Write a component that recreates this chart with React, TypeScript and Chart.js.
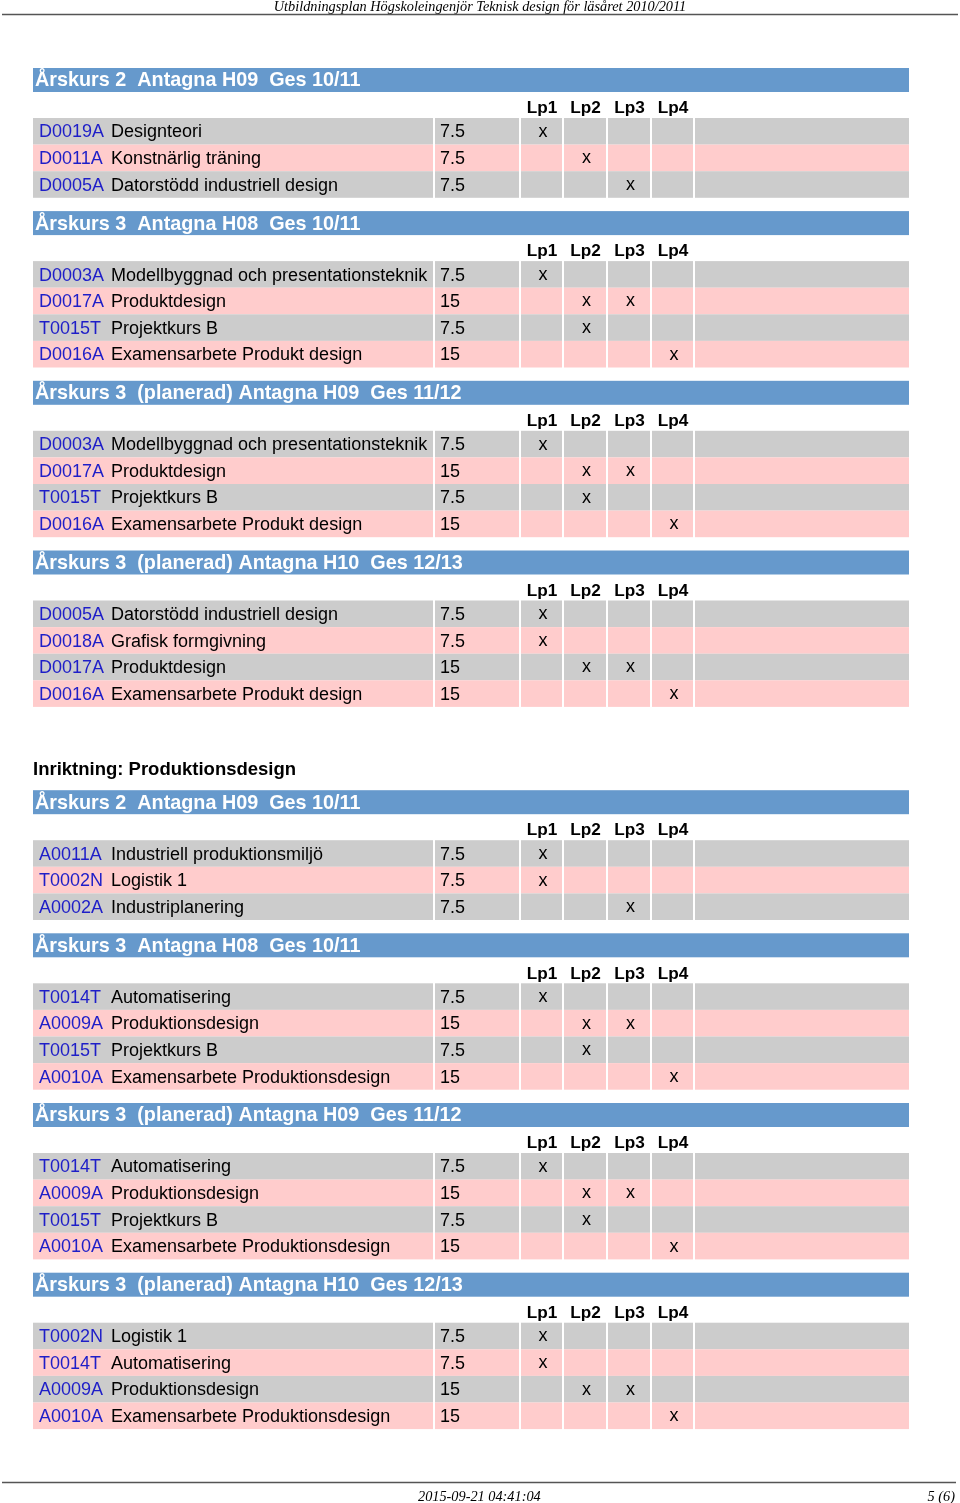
import React, { useEffect, useRef } from "react";
import { Chart, registerables } from "chart.js";

Chart.register(...registerables);

const pageTitle = "Utbildningsplan Högskoleingenjör Teknisk design för läsåret 2010/2011";
const footerDate = "2015-09-21 04:41:04";
const footerPage = "5 (6)";
const groupHeading = "Inriktning: Produktionsdesign";
const groupHeadingBefore = 4;

const sectionTitles = [
  "Årskurs 2  Antagna H09  Ges 10/11",
  "Årskurs 3  Antagna H08  Ges 10/11",
  "Årskurs 3  (planerad) Antagna H09  Ges 11/12",
  "Årskurs 3  (planerad) Antagna H10  Ges 12/13",
  "Årskurs 2  Antagna H09  Ges 10/11",
  "Årskurs 3  Antagna H08  Ges 10/11",
  "Årskurs 3  (planerad) Antagna H09  Ges 11/12",
  "Årskurs 3  (planerad) Antagna H10  Ges 12/13",
];

const periodLabels = ["Lp1", "Lp2", "Lp3", "Lp4"];

const courseSection = [0, 0, 0, 1, 1, 1, 1, 2, 2, 2, 2, 3, 3, 3, 3, 4, 4, 4, 5, 5, 5, 5, 6, 6, 6, 6, 7, 7, 7, 7];
const courseCodes = [
  "D0019A", "D0011A", "D0005A",
  "D0003A", "D0017A", "T0015T", "D0016A",
  "D0003A", "D0017A", "T0015T", "D0016A",
  "D0005A", "D0018A", "D0017A", "D0016A",
  "A0011A", "T0002N", "A0002A",
  "T0014T", "A0009A", "T0015T", "A0010A",
  "T0014T", "A0009A", "T0015T", "A0010A",
  "T0002N", "T0014T", "A0009A", "A0010A",
];
const courseNames = [
  "Designteori", "Konstnärlig träning", "Datorstödd industriell design",
  "Modellbyggnad och presentationsteknik", "Produktdesign", "Projektkurs B", "Examensarbete Produkt design",
  "Modellbyggnad och presentationsteknik", "Produktdesign", "Projektkurs B", "Examensarbete Produkt design",
  "Datorstödd industriell design", "Grafisk formgivning", "Produktdesign", "Examensarbete Produkt design",
  "Industriell produktionsmiljö", "Logistik 1", "Industriplanering",
  "Automatisering", "Produktionsdesign", "Projektkurs B", "Examensarbete Produktionsdesign",
  "Automatisering", "Produktionsdesign", "Projektkurs B", "Examensarbete Produktionsdesign",
  "Logistik 1", "Automatisering", "Produktionsdesign", "Examensarbete Produktionsdesign",
];
const courseCredits = [
  "7.5", "7.5", "7.5",
  "7.5", "15", "7.5", "15",
  "7.5", "15", "7.5", "15",
  "7.5", "7.5", "15", "15",
  "7.5", "7.5", "7.5",
  "7.5", "15", "7.5", "15",
  "7.5", "15", "7.5", "15",
  "7.5", "7.5", "15", "15",
];
// periods in which each course runs (1..4)
const coursePeriods = [
  [1], [2], [3],
  [1], [2, 3], [2], [4],
  [1], [2, 3], [2], [4],
  [1], [1], [2, 3], [4],
  [1], [1], [3],
  [1], [2, 3], [2], [4],
  [1], [2, 3], [2], [4],
  [1], [1], [2, 3], [4],
];

// layout (pixels)
const FONT = '"Liberation Sans", Arial, Helvetica, sans-serif';
const SERIF = '"Liberation Serif", "Times New Roman", serif';
const COLS: [number, number][] = [[33, 433], [435, 519], [521, 562], [564, 606], [608, 650], [652, 693], [695, 909]];
const FIRST_TOP = 68;
const BAR_H = 24;
const HEAD_H = 50;
const ROW_H = 26.6;
const GAP = 13.3;
const GROUP_EXTRA = 70;

const tablePlugin = {
  id: "tablePlugin",
  afterDraw(chart: any) {
    const ctx = chart.ctx as CanvasRenderingContext2D;
    const xs = chart.scales.x;
    const ys = chart.scales.y;
    const X = (v: number) => xs.getPixelForValue(v);
    const Y = (v: number) => ys.getPixelForValue(v);
    ctx.save();

    // page header
    ctx.fillStyle = "#000";
    ctx.font = `italic 14.3px ${SERIF}`;
    ctx.textAlign = "center";
    ctx.textBaseline = "alphabetic";
    ctx.fillText(pageTitle, X(480), Y(11));
    ctx.strokeStyle = "#555";
    ctx.lineWidth = 1.5;
    ctx.beginPath();
    ctx.moveTo(X(2), Y(14.5));
    ctx.lineTo(X(958), Y(14.5));
    ctx.stroke();

    // footer
    ctx.beginPath();
    ctx.moveTo(X(2), Y(1482.5));
    ctx.lineTo(X(956), Y(1482.5));
    ctx.stroke();
    ctx.font = `italic 14.3px ${SERIF}`;
    ctx.textAlign = "left";
    ctx.fillText(footerDate, X(418), Y(1500.5));
    ctx.textAlign = "right";
    ctx.fillText(footerPage, X(955), Y(1500.5));

    let top = FIRST_TOP;
    sectionTitles.forEach((title, s) => {
      if (s === groupHeadingBefore) {
        top += GROUP_EXTRA;
        ctx.fillStyle = "#000";
        ctx.font = `bold 18.5px ${FONT}`;
        ctx.textAlign = "left";
        ctx.textBaseline = "middle";
        ctx.fillText(groupHeading, X(33), Y(top - 20));
      }
      // blue title bar
      ctx.fillStyle = "#6699cc";
      ctx.fillRect(X(COLS[0][0]), Y(top), X(COLS[6][1]) - X(COLS[0][0]), Y(top + BAR_H) - Y(top));
      ctx.fillStyle = "#ffffff";
      ctx.font = `bold 19.8px ${FONT}`;
      ctx.textAlign = "left";
      ctx.textBaseline = "middle";
      ctx.fillText(title, X(35), Y(top + BAR_H / 2 + 1));

      // Lp header
      ctx.fillStyle = "#000";
      ctx.font = `bold 17.2px ${FONT}`;
      ctx.textAlign = "center";
      periodLabels.forEach((lab, i) => {
        const c = COLS[2 + i];
        ctx.fillText(lab, X((c[0] + c[1]) / 2 + 0.5), Y(top + 40.5));
      });

      const rows = courseCodes.map((_, i) => i).filter((i) => courseSection[i] === s);
      const rowTop0 = top + HEAD_H;
      rows.forEach((ci, r) => {
        const y0 = rowTop0 + r * ROW_H;
        const y1 = y0 + ROW_H;
        ctx.fillStyle = r % 2 === 0 ? "#cccccc" : "#ffcccc";
        COLS.forEach(([a, b]) => {
          ctx.fillRect(X(a), Y(y0), X(b) - X(a), Y(y1) - Y(y0));
        });
        const yc = Y((y0 + y1) / 2 + 1.2);
        ctx.textBaseline = "middle";
        ctx.textAlign = "left";
        ctx.font = `18px ${FONT}`;
        ctx.fillStyle = "#1e1ec8";
        ctx.fillText(courseCodes[ci], X(39), yc);
        ctx.fillStyle = "#000";
        ctx.fillText(courseNames[ci], X(111), yc);
        ctx.fillText(courseCredits[ci], X(440), yc);
        ctx.textAlign = "center";
        coursePeriods[ci].forEach((p) => {
          const c = COLS[1 + p];
          ctx.fillText("x", X((c[0] + c[1]) / 2 + 1.5), Y((y0 + y1) / 2 + 0.5));
        });
      });
      top = rowTop0 + rows.length * ROW_H + GAP;
    });
    ctx.restore();
  },
};

export default function App() {
  const ref = useRef<HTMLCanvasElement | null>(null);
  useEffect(() => {
    if (!ref.current) return;
    const chart = new Chart(ref.current, {
      type: "scatter",
      data: { datasets: [{ data: [], pointRadius: 0 }] },
      options: {
        responsive: false,
        maintainAspectRatio: false,
        animation: false,
        devicePixelRatio: 1,
        layout: { padding: 0 },
        plugins: { legend: { display: false }, tooltip: { enabled: false } },
        events: [],
        scales: {
          x: { type: "linear", display: false, min: 0, max: 960 },
          y: { type: "linear", display: false, min: 0, max: 1503, reverse: true },
        },
      },
      plugins: [tablePlugin],
    } as any);
    return () => chart.destroy();
  }, []);
  return (
    <div style={{ position: "absolute", left: 0, top: 0, width: 960, height: 1503, background: "#fff" }}>
      <canvas ref={ref} width={960} height={1503} style={{ display: "block", width: 960, height: 1503 }} />
    </div>
  );
}
